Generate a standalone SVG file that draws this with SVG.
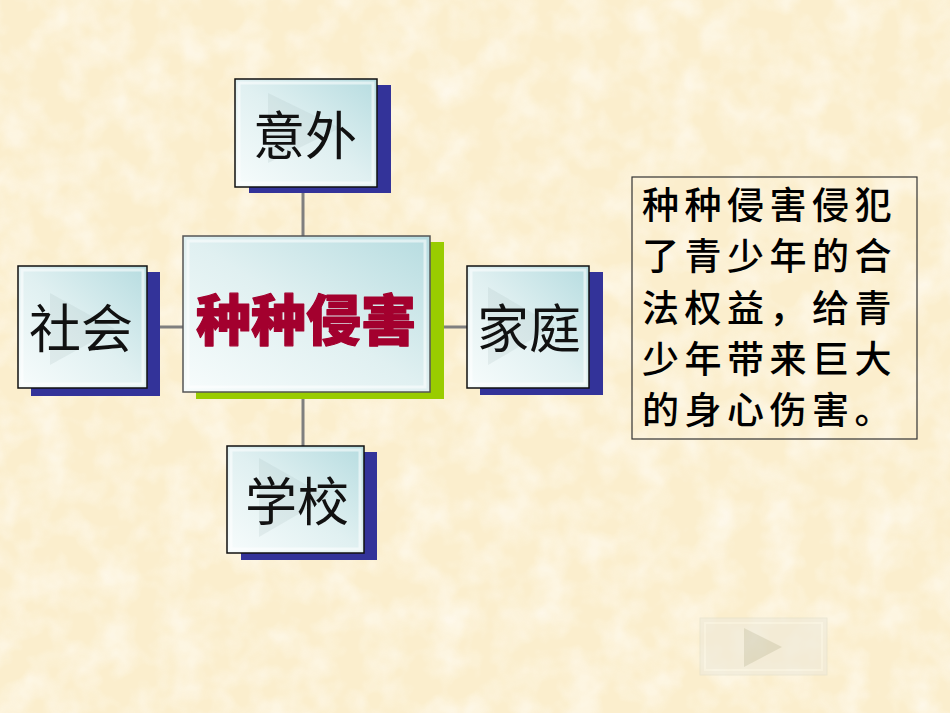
<svg xmlns="http://www.w3.org/2000/svg" width="950" height="713" viewBox="0 0 950 713">
  <defs>
    <linearGradient id="boxg" x1="0" y1="1" x2="1" y2="0">
      <stop offset="0" stop-color="#f7fcfc"/>
      <stop offset="0.5" stop-color="#e0f0f1"/>
      <stop offset="1" stop-color="#b6dce0"/>
    </linearGradient>
    <filter id="tex" x="0" y="0" width="100%" height="100%">
      <feTurbulence type="fractalNoise" baseFrequency="0.03" numOctaves="3" seed="4" result="n"/>
      <feColorMatrix in="n" type="matrix" values="0 0 0 0 1  0 0 0 0 0.98  0 0 0 0 0.93  0 0 0 1.6 -0.6" result="c"/>
      <feComposite in="c" in2="SourceGraphic" operator="in"/>
    </filter>
    <style>
      .bg { fill: #fbeecd; }
      .shadowB { fill: #333399; }
      .shadowG { fill: #99cc00; }
      .box { fill: url(#boxg); stroke: #111; stroke-width: 1.5; }
      .cbox { fill: url(#boxg); stroke: #555; stroke-width: 1.5; }
      .bevel { fill: none; stroke: #ffffff; stroke-opacity: 0.55; stroke-width: 3; }
      .tri { fill: #9fb5b5; fill-opacity: 0.18; }
      .lbl { font-family: "Noto Sans CJK SC", "Noto Sans", sans-serif; font-size: 52px; fill: #111; text-anchor: middle; }
      .title { font-family: "Noto Sans CJK SC", "Noto Sans", sans-serif; font-weight: 900; font-size: 55px; fill: #a3002e; stroke: #a3002e; stroke-width: 1.2; stroke-linejoin: round; text-anchor: middle; }
      .note { font-family: "Noto Sans CJK SC", "Noto Sans", sans-serif; font-weight: 500; font-size: 37px; fill: #000; letter-spacing: 5.5px; }
      .conn { stroke: #7f7f7f; stroke-width: 3; fill: none; }
    </style>
  </defs>

  <rect class="bg" x="0" y="0" width="950" height="713"/>
  <rect x="0" y="0" width="950" height="713" fill="#fff" filter="url(#tex)" opacity="0.8"/>

  <g id="connectors">
    <line class="conn" x1="303" y1="187" x2="303" y2="236"/>
    <line class="conn" x1="303" y1="392" x2="303" y2="446"/>
    <line class="conn" x1="147" y1="327" x2="183" y2="327"/>
    <line class="conn" x1="430" y1="327" x2="467" y2="327"/>
  </g>

  <g id="node-center">
    <rect class="shadowG" x="196" y="242" width="248" height="157"/>
    <rect class="cbox" x="183" y="236" width="247" height="156"/>
    <rect class="bevel" x="188" y="241" width="237" height="146"/>
    <text class="title" x="306" y="340">种种侵害</text>
  </g>

  <g id="node-yiwai">
    <rect class="shadowB" x="249" y="85" width="142" height="108"/>
    <rect class="box" x="235" y="79" width="142" height="108"/>
    <rect class="bevel" x="239" y="83" width="134" height="100"/>
    <polygon class="tri" points="268,93 340,128 268,163"/>
    <text class="lbl" x="305" y="155">意外</text>
  </g>

  <g id="node-shehui">
    <rect class="shadowB" x="31" y="272" width="129" height="124"/>
    <rect class="box" x="18" y="266" width="129" height="122"/>
    <rect class="bevel" x="22" y="270" width="121" height="114"/>
    <polygon class="tri" points="50,293 115,329 50,365"/>
    <text class="lbl" x="81" y="348">社会</text>
  </g>

  <g id="node-jiating">
    <rect class="shadowB" x="480" y="272" width="123" height="123"/>
    <rect class="box" x="467" y="266" width="122" height="122"/>
    <rect class="bevel" x="471" y="270" width="114" height="114"/>
    <polygon class="tri" points="488,287 555,326 488,365"/>
    <text class="lbl" x="529" y="348">家庭</text>
  </g>

  <g id="node-xuexiao">
    <rect class="shadowB" x="241" y="452" width="136" height="108"/>
    <rect class="box" x="227" y="446" width="137" height="107"/>
    <rect class="bevel" x="231" y="450" width="129" height="99"/>
    <polygon class="tri" points="259,458 328,497 259,537"/>
    <text class="lbl" x="297" y="521">学校</text>
  </g>

  <g id="note">
    <rect x="632" y="177" width="285" height="262" fill="none" stroke="#333" stroke-width="1.2"/>
    <text class="note" x="642" y="219">种种侵害侵犯</text>
    <text class="note" x="642" y="270">了青少年的合</text>
    <text class="note" x="642" y="322">法权益，给青</text>
    <text class="note" x="642" y="373">少年带来巨大</text>
    <text class="note" x="642" y="424">的身心伤害。</text>
  </g>

  <g id="nav-button" opacity="0.6">
    <rect x="700" y="618" width="127" height="57" fill="#eeeadb" stroke="#e2dfcc" stroke-width="1"/>
    <rect x="705" y="623" width="117" height="47" fill="none" stroke="#f7f4e6" stroke-width="2"/>
    <polygon points="744,628 782,647 744,667" fill="#cfccb6"/>
  </g>
</svg>
